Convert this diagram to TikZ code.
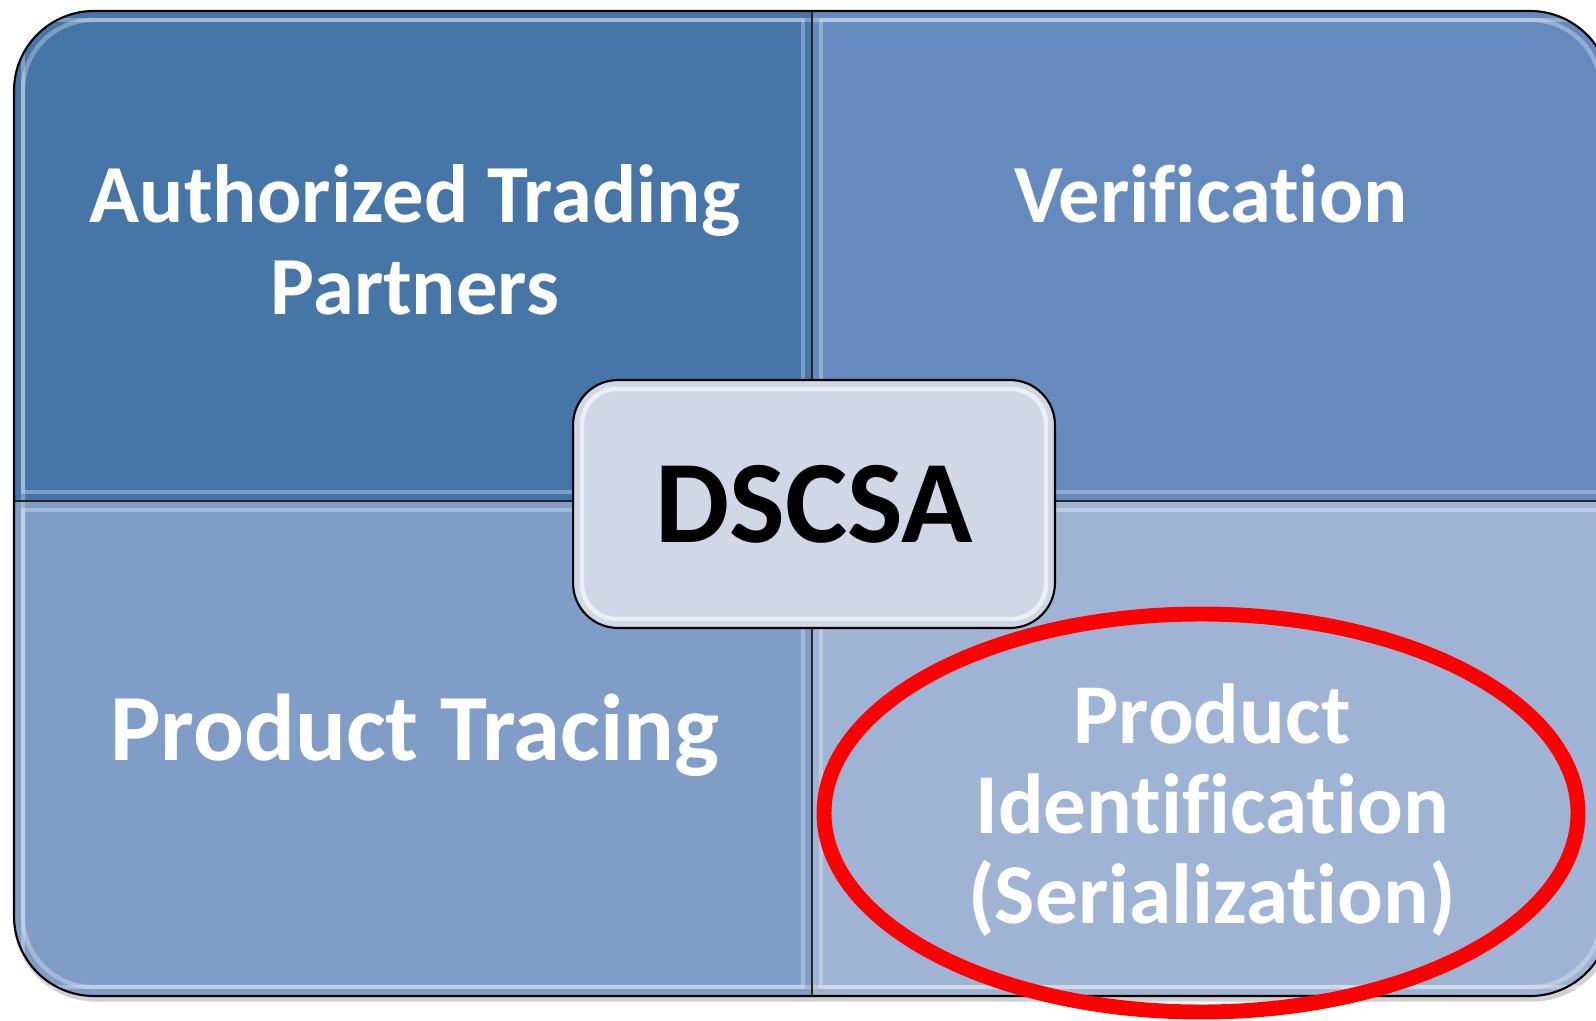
\documentclass[tikz,border=0pt]{standalone}
\usepackage{fontspec}
\setmainfont{Carlito}[Ligatures={NoCommon}]
\definecolor{quadTL}{RGB}{70,117,168}
\definecolor{quadTR}{RGB}{101,138,190}
\definecolor{quadBL}{RGB}{127,157,199}
\definecolor{quadBR}{RGB}{159,180,212}
\definecolor{hubFill}{RGB}{208,215,230}
\tikzset{
  quadtext/.style={text=white, align=center, font=\bfseries\fontsize{47}{52}\selectfont},
  hubbox/.style={draw=black, line width=1.2pt, fill=hubFill, rounded corners=0.9cm,
    minimum width=9.64cm, minimum height=4.96cm, font=\bfseries\fontsize{67}{70}\selectfont},
  glint/.style={draw=white, line width=2.5pt, opacity=0.3}
}
\begin{document}
\begin{tikzpicture}[x=0.02cm, y=-0.02cm]
% one unit is one pixel of the reference, y pointing down
\providecommand{\dscsaFrameRadius}{1.6cm}
\providecommand{\dscsaLineWidth}{1.2pt}
\useasboundingbox (0,0) rectangle (1596,1021);
% Soft shadow under the frame
\draw[black, opacity=0.18, line width=3pt, rounded corners=\dscsaFrameRadius] (16,15) rectangle (1612,999);
% Quadrants, each clipped from the rounded frame
\foreach \xa/\ya/\xb/\yb/\col in {14/11/812/501/quadTL, 812/11/1610/501/quadTR,
                                  14/501/812/996/quadBL, 812/501/1610/996/quadBR}{
  \begin{scope}
    \clip (\xa,\ya) rectangle (\xb,\yb);
    \fill[\col, rounded corners=\dscsaFrameRadius] (14,11) rectangle (1610,996);
    \draw[glint, rounded corners=1.4cm] (23,20) rectangle (1601,987);
    \draw[glint] (\xa+9,\ya+9) rectangle (\xb-9,\yb-9);
  \end{scope}
}
% Dividers and outline
\draw[black!85, line width=1pt] (812,11) -- (812,996);
\draw[black!85, line width=1pt] (14,501) -- (1610,501);
\draw[black, line width=\dscsaLineWidth, rounded corners=\dscsaFrameRadius] (14,11) rectangle (1610,996);
% Quadrant labels
\node[quadtext] (trading) at (415,240) {Authorized Trading\\Partners};
\node[quadtext, anchor=base] (verify) at (1211,222) {Verification};
\node[quadtext, anchor=base, font=\bfseries\fontsize{54}{58}\selectfont] (tracing) at (415,760) {Product Tracing};
\node[quadtext, font=\bfseries\fontsize{48.5}{51}\selectfont] (serial) at (1212,810) {Product\\Identification\\(Serialization)};
% Centre box
\node[hubbox] (hub) at (814,504) {DSCSA};
\draw[glint, opacity=0.6, rounded corners=0.7cm] ([xshift=0.2cm,yshift=-0.2cm]hub.north west) rectangle ([xshift=-0.2cm,yshift=0.2cm]hub.south east);
% Highlight ring
\coordinate (ring) at (1201,813);
\draw[red, line width=8.5pt] (ring) ellipse [x radius=377, y radius=199];
\end{tikzpicture}
\end{document}
